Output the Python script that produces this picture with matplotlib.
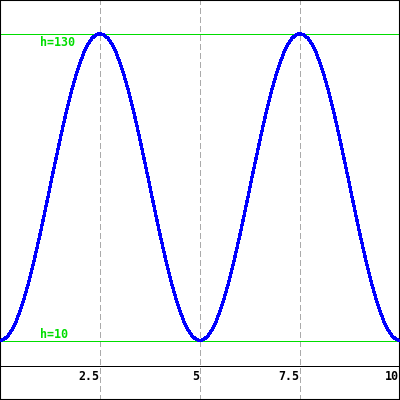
import numpy as np
import matplotlib
matplotlib.use("Agg")
import matplotlib.pyplot as plt

x_start, x_stop, x_step = 0.0, 10.0, 0.1
h_values = [
    10.0, 10.5, 11.9, 14.2, 17.4, 21.5, 26.3, 31.8, 37.9, 44.5,
    51.5, 58.8, 66.2, 73.8, 81.2, 88.5, 95.5, 102.2, 108.3, 113.7,
    118.5, 122.6, 125.8, 128.1, 129.5, 130.0, 129.5, 128.1, 125.8, 122.6,
    118.5, 113.7, 108.3, 102.2, 95.5, 88.5, 81.2, 73.8, 66.2, 58.8,
    51.5, 44.5, 37.9, 31.8, 26.3, 21.5, 17.4, 14.2, 11.9, 10.5,
    10.0, 10.5, 11.9, 14.2, 17.4, 21.5, 26.3, 31.8, 37.9, 44.5,
    51.5, 58.8, 66.2, 73.8, 81.2, 88.5, 95.5, 102.2, 108.3, 113.7,
    118.5, 122.6, 125.8, 128.1, 129.5, 130.0, 129.5, 128.1, 125.8, 122.6,
    118.5, 113.7, 108.3, 102.2, 95.5, 88.5, 81.2, 73.8, 66.2, 58.8,
    51.5, 44.5, 37.9, 31.8, 26.3, 21.5, 17.4, 14.2, 11.9, 10.5,
    10.0,
]
ref_levels = [10, 130]
ref_labels = ["h=10", "h=130"]
tick_positions = [2.5, 5, 7.5, 10]
tick_labels = ["2.5", "5", "7.5", "10"]
grid_positions = [2.5, 5, 7.5]

xs = np.round(np.arange(len(h_values)) * x_step + x_start, 1)

plt.rcParams['lines.scale_dashes'] = False

fig = plt.figure(figsize=(4, 4), dpi=100)
ax = fig.add_axes([0, 0, 1, 1])
ax.set_xlim(0, 10)
ax.set_ylim(-13.2, 143.1)
ax.set_xticks([])
ax.set_yticks([])
for s in ax.spines.values():
    s.set_color('black')
    s.set_linewidth(1.5)

green = '#00dd00'
for gx in grid_positions:
    ax.axvline(gx, color='#aaaaaa', lw=0.72, linestyle=(0, (3.6, 2.2)), antialiased=False, zorder=1)

ax.axhline(0, color='black', lw=0.72, antialiased=False, zorder=2)

for lvl in ref_levels:
    ax.axhline(lvl, color=green, lw=0.72, antialiased=False, zorder=2)

ax.plot(xs, h_values, color='#0000ff', lw=1.6, antialiased=False, zorder=3)

font = dict(family='DejaVu Sans Mono', weight='bold', size=8.4)
# reference labels
ax.annotate(ref_labels[1], xy=(1.0, ref_levels[1]), xytext=(0, -1.6), textcoords='offset points',
            ha='left', va='top', color=green, **font)
ax.annotate(ref_labels[0], xy=(1.0, ref_levels[0]), xytext=(0, 2.0), textcoords='offset points',
            ha='left', va='baseline', color=green, **font)

for tx, tl in zip(tick_positions, tick_labels):
    ax.annotate(tl, xy=(tx, 0), xytext=(-0.8, -2.6), textcoords='offset points',
                ha='right', va='top', color='black', **font)

fig.savefig('out.png', dpi=100)
